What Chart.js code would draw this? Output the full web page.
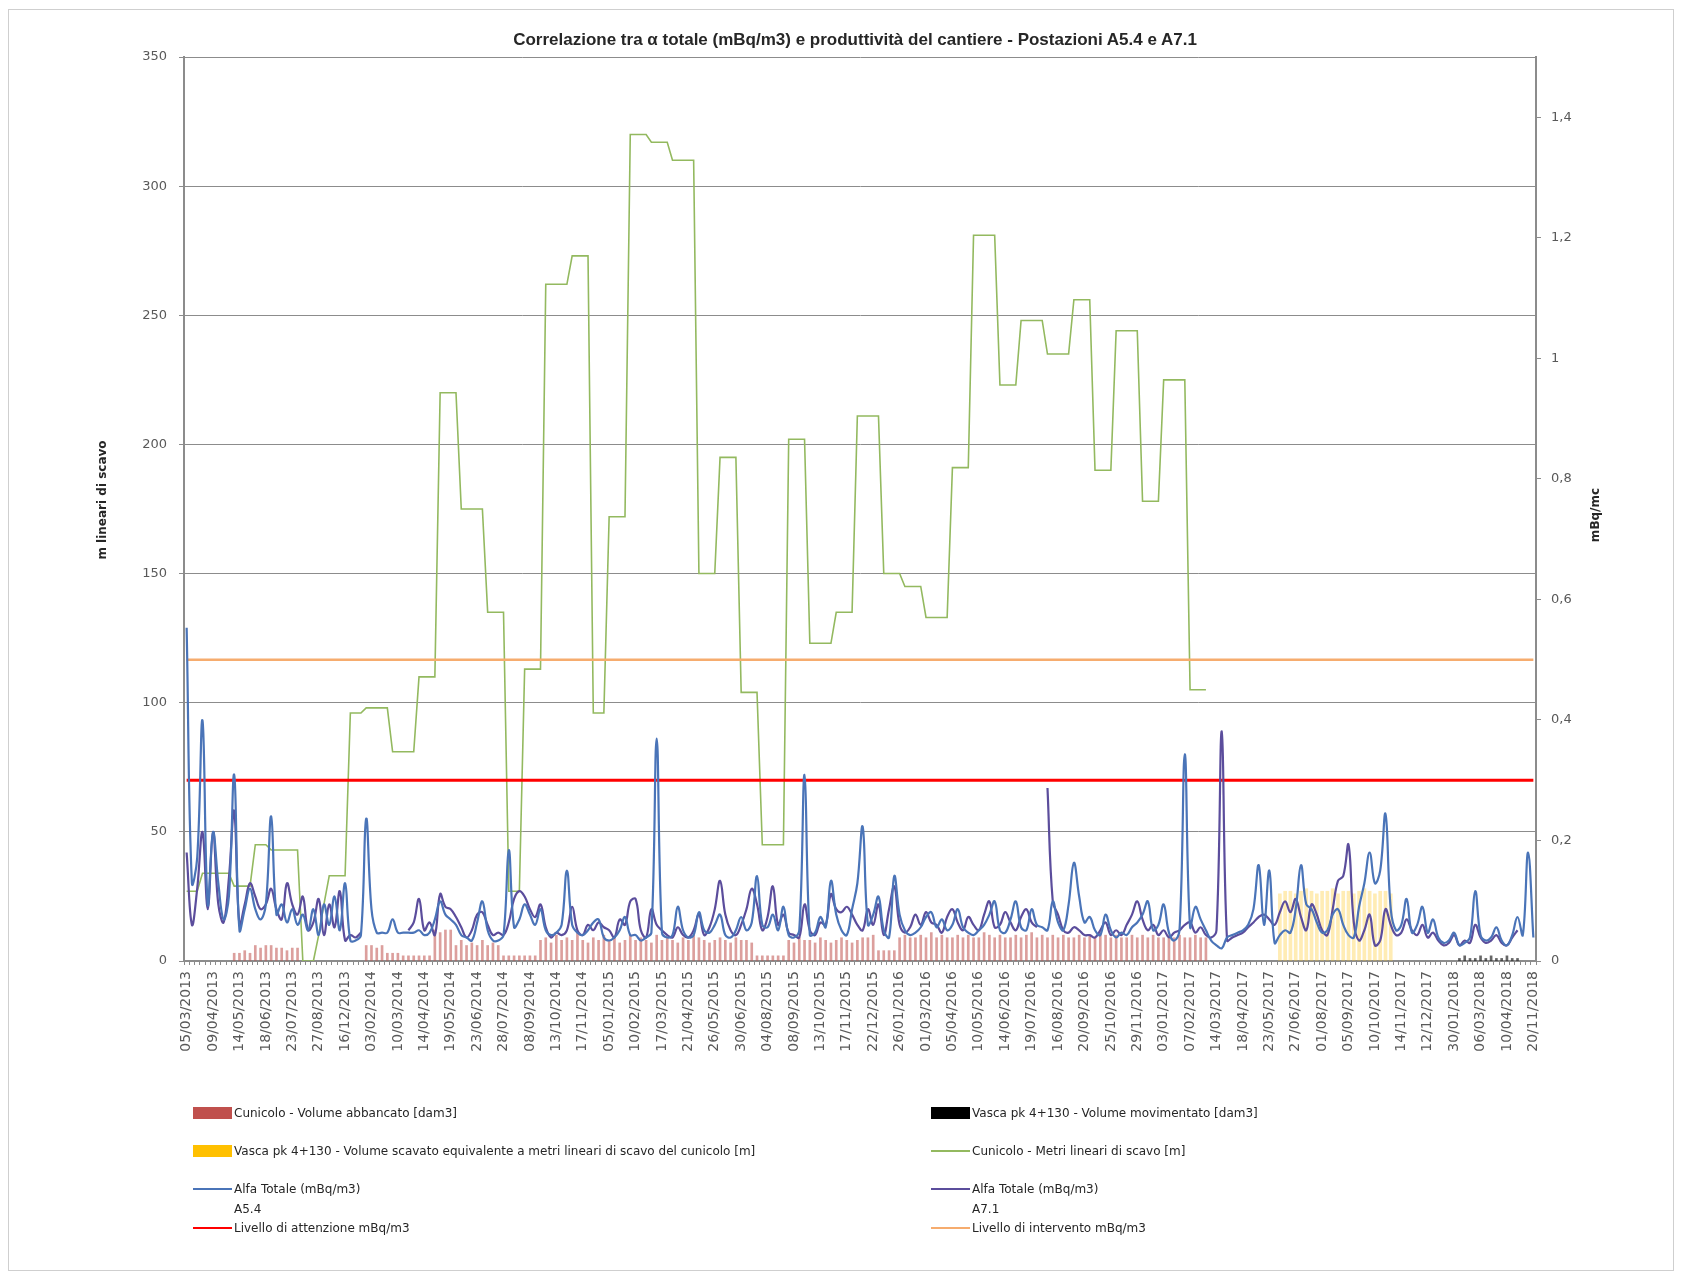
<!DOCTYPE html>
<html lang="it">
<head>
<meta charset="utf-8">
<title>Correlazione tra α totale e produttività del cantiere</title>
<script src="https://cdn.jsdelivr.net/npm/chart.js@4.4.1/dist/chart.umd.min.js"></script>
<style>
  html, body { margin: 0; padding: 0; background: #ffffff; }
  #wrap { position: relative; width: 1682px; height: 1278px; overflow: hidden; background: #fff; }
  #frame { position: absolute; left: 8px; top: 9px; width: 1666px; height: 1262px; border: 1px solid #cfcfcf; box-sizing: border-box; pointer-events: none; }
  canvas { position: absolute; left: 0; top: 0; }
  .title { position: absolute; left: 855px; top: 40px; transform: translate(-50%, -50%); white-space: nowrap;
           font-family: "Liberation Sans", Arial, sans-serif; font-size: 17px; font-weight: bold; color: #262626; }
  .ytitle { position: absolute; transform: translate(-50%, -50%) rotate(-90deg); white-space: nowrap;
            font-family: "DejaVu Sans", sans-serif; font-size: 12px; font-weight: bold; color: #262626; }
  .leg { position: absolute; font-family: "DejaVu Sans", sans-serif; font-size: 12px; color: #262626; white-space: nowrap; line-height: 14px; }
  .sw { position: absolute; }
</style>
</head>
<body>
<div id="wrap">
  <canvas id="chart" width="1682" height="1278"></canvas>
  <div id="frame"></div>
  <div class="title">Correlazione tra α totale (mBq/m3) e produttività del cantiere - Postazioni A5.4 e A7.1</div>
  <div class="ytitle" style="left:102px; top:500px;">m lineari di scavo</div>
  <div class="ytitle" style="left:1595px; top:515px;">mBq/mc</div>
  <div id="legend"></div>
</div>
<script>
// Dates printed on the time axis (one every fifth sampling date)
const tickDates = [
  '05/03/2013','09/04/2013','14/05/2013','18/06/2013','23/07/2013','27/08/2013','16/12/2013',
  '03/02/2014','10/03/2014','14/04/2014','19/05/2014','23/06/2014','28/07/2014','08/09/2014',
  '13/10/2014','17/11/2014','05/01/2015','10/02/2015','17/03/2015','21/04/2015','26/05/2015',
  '30/06/2015','04/08/2015','08/09/2015','13/10/2015','17/11/2015','22/12/2015','26/01/2016',
  '01/03/2016','05/04/2016','10/05/2016','14/06/2016','19/07/2016','16/08/2016','20/09/2016',
  '25/10/2016','29/11/2016','03/01/2017','07/02/2017','14/03/2017','18/04/2017','23/05/2017',
  '27/06/2017','01/08/2017','05/09/2017','10/10/2017','14/11/2017','12/12/2017','30/01/2018',
  '06/03/2018','10/04/2018','20/11/2018'
];
const TICK_EVERY = 5;

// Cunicolo - metri lineari di scavo [m] (left axis)
const metriScavo = [
  27,27,27, 34,34,34,34,34,34, 29,29,29,29, 45,45,45, 43,43,43,43,43,43, 0,0,0, 10,22,
  33,33,33,33, 96,96,96, 98,98,98,98,98, 81,81,81,81,81, 110,110,110,110, 220,220,220,220,
  175,175,175,175,175, 135,135,135,135, 27,27,27, 113,113,113,113, 262,262,262,262,262,
  273,273,273,273, 96,96,96, 172,172,172,172, 320,320,320,320, 317,317,317,317,
  310,310,310,310,310, 150,150,150,150, 195,195,195,195, 104,104,104,104, 45,45,45,45,45,
  202,202,202,202, 123,123,123,123,123, 135,135,135,135, 211,211,211,211,211,
  150,150,150,150, 145,145,145,145, 133,133,133,133,133, 191,191,191,191,
  281,281,281,281,281, 223,223,223,223, 248,248,248,248,248, 235,235,235,235,235,
  256,256,256,256, 190,190,190,190, 244,244,244,244,244, 178,178,178,178,
  225,225,225,225,225, 105,105,105,105,
  null,null,null,null,null,null,null,null,null,null,null,null,null,null,null,null,
  null,null,null,null,null,null,null,null,null,null,null,null,null,null,null,null,
  null,null,null,null,null,null,null,null,null,null,null,null,null,null,null,null,
  null,null,null,null,null,null,null,null,null,null,null,null,null,null
];

// Cunicolo - volume abbancato [dam3] (left axis)
const volumeAbbancato = [
  null,null,null,null,null,null,null,null,null, 3,3,4,3, 6,5,6,6, 5,5,4,5,5,
  null,null,null,null,null,null,null,null,null,null,null,null,
  6,6,5,6, 3,3,3,2, 2,2,2,2,2, 12,11,12,12, 6,8,6,7,6,8,6,7,6, 2,2,2,2,2,2,2,
  8,9,7,10,8,9,8,11,8,7,9,8,10,8,9,7,8,10,
  8,9,8,7,10,8,9,8,7,9,8,10,9,8,7,8,9,8,7,9,8,8,7,
  2,2,2,2,2,2,
  8,7,9,8,8,7,9,8,7,8,9,8,7,8,
  9,9,10, 4,4,4,4,
  9,10,9,9,10,9,11,9,10,9, 9,10,9,10,9,9,11,10,9,10, 9,9,10,9,10,11,9,10,9,10,
  9,10,9,9,10,9,10,9,11,10, 9,10,9,9,10,9,10,9,10,9, 9,10,9,10,9,9,10,9,9,
  null,null,null,null,null,null,null,null,null,null,null,null,null,null,null,null,
  null,null,null,null,null,null,null,null,null,null,null,null,null,null,null,null,
  null,null,null,null,null,null,null,null,null,null,null,null,null,null,null,null,
  null,null,null,null,null,null,null,null,null,null,null,null,null,null
];

// Vasca pk 4+130 - volume scavato equivalente a metri lineari di scavo del cunicolo [m]
const vascaScavatoStart = 207;
const vascaScavato = [26,27,27,26,27,28,27,26,27,27,28,26,27,27,26,27,28,27,26,27,27,26];

// Vasca pk 4+130 - volume movimentato [dam3]
const vascaMovimentatoStart = 241;
const vascaMovimentato = [1,2,1,1,2,1,2,1,1,2,1,1];

// Alfa totale (mBq/m3) - postazione A5.4 (right axis)
const alfaA54 = [
  0.553,0.129,0.171,0.399,0.094,0.214,0.129,0.069,0.107,0.309, 0.051,0.086,0.120,0.086,0.069,0.094,0.240,0.077,0.094,0.064,
  0.086,0.060,0.077,0.051,0.086,0.043,0.094,0.060,0.107,0.051, 0.129,0.034,0.034,0.043,0.236,0.086,0.047,0.047,0.047,0.069,
  0.047,0.047,0.047,
  0.047,0.051,0.043,0.047,0.069,0.099,0.077,0.069,0.060,0.043, 0.039,0.034,0.064,0.099,0.051,0.034,0.034,0.043,0.184,0.056,
  0.069,0.094,0.077,0.060,0.086,0.051,0.043,0.047,0.060,0.150, 0.060,0.047,0.043,0.051,0.064,0.069,0.039,0.034,0.039,0.051,
  0.073,0.043,
  0.043,0.034,0.039,0.047,0.369,0.047,0.039,0.043,0.090,0.051, 0.039,0.043,0.081,0.051,0.047,0.060,0.077,0.043,0.039,0.051,
  0.073,0.051,0.064,0.141,0.060,0.056,0.077,0.051,0.090,0.043, 0.039,0.051,0.309,0.043,0.047,0.073,0.056,0.133,0.077,0.051,
  0.043,0.086,0.129,
  0.223,0.060,0.077,0.107,0.051,0.039,0.141,0.077,0.051,0.043, 0.047,0.056,0.073,0.081,0.056,0.069,0.051,0.060,0.086,0.056,
  0.047,0.043,0.051,0.060,0.077,0.099,0.051,0.047,0.069,0.099, 0.056,0.051,0.086,0.060,0.056,0.051,0.099,0.064,0.051,0.094,
  0.163,0.107,0.064,
  0.073,0.051,0.043,0.077,0.051,0.039,0.047,0.043,0.056,0.064, 0.077,0.099,0.051,0.060,0.094,0.047,0.034,0.051,0.343,0.056,
  0.090,0.069,0.051,0.034,0.026,0.021,0.039,0.043,0.047,0.051, 0.060,0.086,0.159,0.060,0.150,0.030,0.043,0.051,0.047,0.086,
  0.159,0.094,
  0.086,0.064,0.047,0.051,0.077,0.086,0.060,0.043,0.039,0.090, 0.129,0.180,0.129,0.150,0.244,0.086,0.051,0.060,0.103,0.047,
  0.060,0.090,0.047,0.069,0.039,0.030,0.034,0.047,0.026,0.030, 0.039,0.116,0.043,0.034,0.039,0.056,0.034,0.026,0.043,0.073,
  0.043,0.180,0.039
];

// Alfa totale (mBq/m3) - postazione A7.1 (right axis)
const alfaA71 = [
  0.180,0.060,0.120,0.214,0.086,0.214,0.094,0.064,0.137,0.249, 0.060,0.094,0.129,0.107,0.086,0.094,0.120,0.086,0.069,0.129,
  0.094,0.077,0.107,0.051,0.064,0.103,0.043,0.094,0.056,0.116, 0.034,0.043,0.039,0.047,
  null,null,null,null,null,null,null,null,
  0.051,0.064,0.103,0.051,0.064,0.043,0.111,0.090,0.086,0.073, 0.056,0.039,0.051,0.077,0.081,0.060,0.043,0.047,0.043,0.064,
  0.103,0.116,0.107,0.086,0.073,0.094,0.056,0.039,0.047,0.043, 0.051,0.090,0.051,0.043,0.060,0.051,0.064,0.056,0.051,0.039,
  0.069,0.060,0.099,
  0.103,0.051,0.039,0.086,0.060,0.051,0.043,0.039,0.056,0.043, 0.039,0.051,0.077,0.043,0.056,0.086,0.133,0.077,0.051,0.043,
  0.060,0.086,0.120,0.094,0.051,0.073,0.124,0.060,0.077,0.047, 0.043,0.039,0.094,0.051,0.043,0.064,0.060,0.111,0.086,0.081,
  0.090,0.077,0.060,
  0.051,0.086,0.060,0.094,0.043,0.086,0.124,0.060,0.047,0.056, 0.077,0.060,0.081,0.064,0.060,0.047,0.073,0.086,0.064,0.051,
  0.073,0.060,0.051,0.077,0.099,0.056,0.060,0.081,0.064,0.051, 0.073,0.086,0.064,0.056,null,0.287,0.099,0.077,0.051,0.047,
  0.056,0.051,0.043,
  0.043,0.039,0.051,0.064,0.043,0.051,0.043,0.060,0.077,0.099, 0.069,0.051,0.060,0.043,0.051,0.039,0.047,0.051,0.060,0.064,
  0.047,0.056,0.043,0.039,0.051,0.381,0.034,0.039,0.043,0.047, 0.056,0.064,0.073,0.077,0.069,0.060,0.081,0.099,0.081,0.103,
  0.073,0.051,
  0.094,0.077,0.051,0.043,0.086,0.133,0.141,0.193,0.064,0.034, 0.051,0.077,0.026,0.034,0.086,0.060,0.043,0.047,0.069,0.051,
  0.043,0.060,0.039,0.047,0.034,0.026,0.030,0.043,0.026,0.034, 0.030,0.060,0.039,0.030,0.034,0.043,0.030,0.026,0.039,0.051,
  null,null,null
];

// Reference levels (mBq/m3)
const livelloAttenzione = 0.3;
const livelloIntervento = 0.5;

// Sampling dates: the printed dates plus the four readings between each pair
function parseDate(s) { const [d, m, y] = s.split('/').map(Number); return Date.UTC(y, m - 1, d); }
function formatDate(t) {
  const d = new Date(t);
  return String(d.getUTCDate()).padStart(2, '0') + '/' + String(d.getUTCMonth() + 1).padStart(2, '0') + '/' + d.getUTCFullYear();
}
const DAY = 86400000;
const categories = [];
tickDates.forEach((s, k) => {
  categories.push(s);
  if (k < tickDates.length - 1) {
    const a = parseDate(s), b = parseDate(tickDates[k + 1]);
    for (let j = 1; j < TICK_EVERY; j++) categories.push(formatDate(a + Math.round((b - a) * j / TICK_EVERY / DAY) * DAY));
  }
});

function placeAt(start, values) {
  return values.map((v, k) => ({ x: categories[start + k], y: v }));
}

const COLORS = {
  abbancato: '#C0504D', movimentato: '#000000', vasca: '#FFC000', metri: '#93B95F',
  a54: '#4A74B8', a71: '#5B4D9C', attenzione: '#FF0000', intervento: '#F6AC6E'
};
const AXIS = '#8c8c8c';
const TICK_FONT = { family: 'DejaVu Sans', size: 13 };

Chart.defaults.font.family = 'DejaVu Sans';

new Chart(document.getElementById('chart'), {
  data: {
    labels: categories,
    datasets: [
      { type: 'line', label: 'Alfa Totale (mBq/m3) A5.4', data: alfaA54, yAxisID: 'y1', order: 1,
        borderColor: COLORS.a54, borderWidth: 2.2, pointRadius: 0, tension: 0.4, spanGaps: false },
      { type: 'line', label: 'Alfa Totale (mBq/m3) A7.1', data: alfaA71, yAxisID: 'y1', order: 2,
        borderColor: COLORS.a71, borderWidth: 2.2, pointRadius: 0, tension: 0.4, spanGaps: false },
      { type: 'line', label: 'Livello di attenzione mBq/m3', data: categories.map(() => livelloAttenzione), yAxisID: 'y1', order: 3,
        borderColor: COLORS.attenzione, borderWidth: 3, pointRadius: 0 },
      { type: 'line', label: 'Livello di intervento mBq/m3', data: categories.map(() => livelloIntervento), yAxisID: 'y1', order: 3,
        borderColor: COLORS.intervento, borderWidth: 2.5, pointRadius: 0 },
      { type: 'line', label: 'Cunicolo - Metri lineari di scavo [m]', data: metriScavo, yAxisID: 'y', order: 4,
        borderColor: COLORS.metri, borderWidth: 1.6, pointRadius: 0, tension: 0, spanGaps: false },
      { type: 'bar', label: 'Cunicolo - Volume abbancato [dam3]', data: volumeAbbancato, yAxisID: 'y', order: 6,
        backgroundColor: 'rgba(192, 80, 77, 0.55)', barThickness: 2, grouped: false },
      { type: 'bar', label: 'Vasca pk 4+130 - Volume scavato equivalente a metri lineari di scavo del cunicolo [m]',
        data: placeAt(vascaScavatoStart, vascaScavato), yAxisID: 'y', order: 7,
        backgroundColor: 'rgba(255, 200, 40, 0.35)', barThickness: 3, grouped: false },
      { type: 'bar', label: 'Vasca pk 4+130 - Volume movimentato [dam3]',
        data: placeAt(vascaMovimentatoStart, vascaMovimentato), yAxisID: 'y', order: 5,
        backgroundColor: 'rgba(0, 0, 0, 0.6)', barThickness: 2, grouped: false }
    ]
  },
  options: {
    responsive: false,
    animation: false,
    devicePixelRatio: 1,
    layout: { padding: { top: 57, left: 0, right: 0, bottom: 0 } },
    plugins: { legend: { display: false }, title: { display: false }, tooltip: { enabled: false } },
    scales: {
      x: {
        type: 'category',
        offset: true,
        grid: { display: true, drawOnChartArea: false, drawTicks: true, tickLength: 4, color: AXIS, offset: true },
        border: { display: true, color: AXIS, width: 2 },
        ticks: {
          autoSkip: false, minRotation: 90, maxRotation: 90, padding: 6, color: '#595959',
          font: { family: 'DejaVu Sans', size: 14 },
          callback: function (value, index) { return index % TICK_EVERY === 0 ? this.getLabelForValue(value) : ''; }
        },
        afterFit: (s) => { s.height = 317; }
      },
      y: {
        position: 'left', min: 0, max: 350,
        ticks: { stepSize: 50, padding: 12, color: '#595959', font: TICK_FONT },
        grid: { color: AXIS, lineWidth: 1, tickLength: 5 },
        border: { display: true, color: AXIS, width: 2 },
        afterFit: (s) => { s.width = 184; }
      },
      y1: {
        position: 'right', min: 0, max: 1.5,
        ticks: {
          stepSize: 0.2, includeBounds: false, padding: 10, color: '#595959', font: TICK_FONT,
          callback: (v) => String(Number(v.toFixed(1))).replace('.', ',')
        },
        grid: { drawOnChartArea: false, color: AXIS, tickLength: 5 },
        border: { display: true, color: AXIS, width: 2 },
        afterFit: (s) => { s.width = 146; }
      }
    }
  }
});

// Legend laid out in two columns below the axis
const legendItems = [
  { kind: 'box',  color: COLORS.abbancato,   col: 0, y: 1113, text: ['Cunicolo - Volume abbancato [dam3]'] },
  { kind: 'box',  color: COLORS.movimentato, col: 1, y: 1113, text: ['Vasca pk 4+130 - Volume movimentato [dam3]'] },
  { kind: 'box',  color: COLORS.vasca,       col: 0, y: 1151, text: ['Vasca pk 4+130 - Volume scavato equivalente a metri lineari di scavo del cunicolo [m]'] },
  { kind: 'line', color: COLORS.metri,       col: 1, y: 1151, text: ['Cunicolo - Metri lineari di scavo [m]'] },
  { kind: 'line', color: COLORS.a54,         col: 0, y: 1189, text: ['Alfa Totale (mBq/m3)', 'A5.4'] },
  { kind: 'line', color: COLORS.a71,         col: 1, y: 1189, text: ['Alfa Totale (mBq/m3)', 'A7.1'] },
  { kind: 'line', color: COLORS.attenzione,  col: 0, y: 1228, text: ['Livello di attenzione mBq/m3'] },
  { kind: 'line', color: COLORS.intervento,  col: 1, y: 1228, text: ['Livello di intervento mBq/m3'] }
];
const colX = [193, 931];
const legendEl = document.getElementById('legend');
legendItems.forEach((it) => {
  const sw = document.createElement('div');
  sw.className = 'sw';
  sw.style.left = colX[it.col] + 'px';
  sw.style.width = '39px';
  if (it.kind === 'box') { sw.style.top = (it.y - 6) + 'px'; sw.style.height = '12px'; }
  else { sw.style.top = (it.y - 1) + 'px'; sw.style.height = '2px'; }
  sw.style.background = it.color;
  legendEl.appendChild(sw);
  it.text.forEach((t, n) => {
    const tx = document.createElement('div');
    tx.className = 'leg';
    tx.style.left = (colX[it.col] + 41) + 'px';
    tx.style.top = (it.y - 7 + n * 20) + 'px';
    tx.textContent = t;
    legendEl.appendChild(tx);
  });
});
</script>
</body>
</html>
